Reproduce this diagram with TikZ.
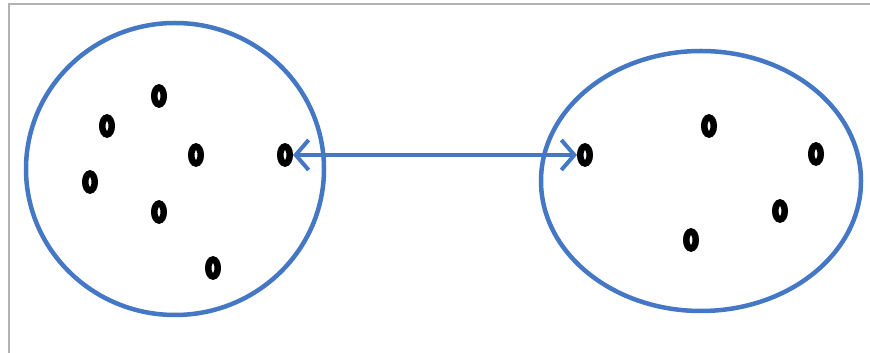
\documentclass[tikz,border=0pt]{standalone}
\usetikzlibrary{shapes.geometric,arrows.meta}
\definecolor{setblue}{HTML}{4477C4}
\tikzset{
  elemdot/.style={ellipse, draw=black, line width=6.5pt, minimum width=9.5pt, minimum height=17pt, inner sep=0pt},
  setring/.style={draw=setblue, line width=4.5pt},
  linkarrow/.style={draw=setblue, line width=4.5pt, {Straight Barb[length=13pt,width=30pt,line width=4pt]}-{Straight Barb[length=13pt,width=30pt,line width=4pt]}}
}

\begin{document}
\begin{tikzpicture}[x=1pt, y=1pt]
\useasboundingbox (0,0) rectangle (870,353);
% frame
\draw[gray!60, line width=2pt] (8.5,0) -- (8.5,348.5) -- (870,348.5);
% the two sets
\draw[setring] (175,184) ellipse [x radius=149, y radius=146];
\draw[setring] (701,172) ellipse [x radius=160, y radius=130];
% left set
\node[elemdot] (a1) at (107,227) {};
\node[elemdot] (a2) at (159,257) {};
\node[elemdot] (a3) at (196,198) {};
\node[elemdot] (a4) at (285,198) {};
\node[elemdot] (a5) at (90,171) {};
\node[elemdot] (a6) at (159,141) {};
\node[elemdot] (a7) at (213,85) {};
% right set
\node[elemdot] (b1) at (585,198) {};
\node[elemdot] (b2) at (709,227) {};
\node[elemdot] (b3) at (816,199) {};
\node[elemdot] (b4) at (780,142) {};
\node[elemdot] (b5) at (691,113) {};
\draw[linkarrow] (a4) -- (b1);
\end{tikzpicture}
\end{document}
